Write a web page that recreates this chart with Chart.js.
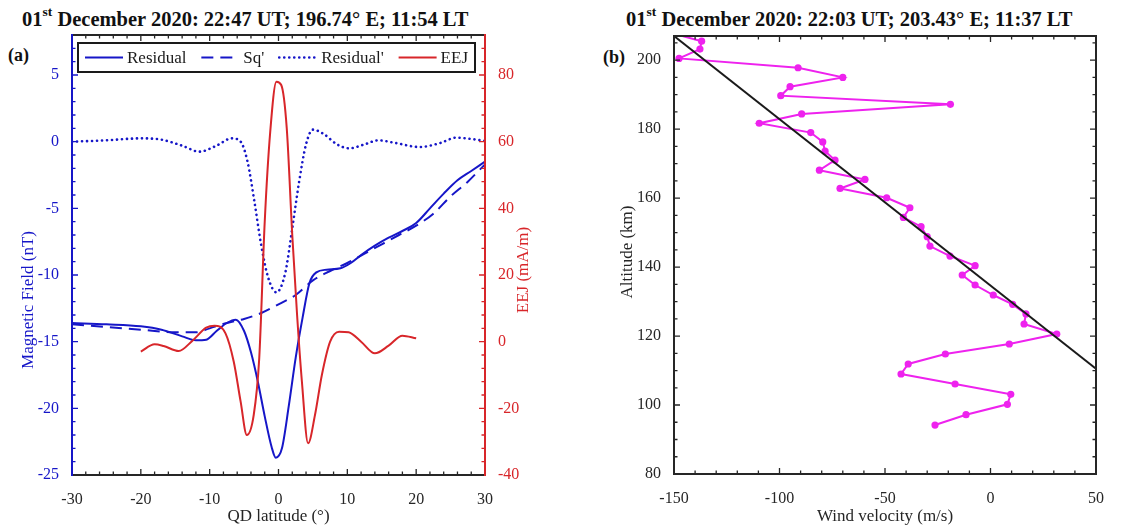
<!DOCTYPE html>
<html><head><meta charset="utf-8">
<script src="https://cdn.jsdelivr.net/npm/chart.js@4/dist/chart.umd.min.js"></script>
<style>
body{margin:0;background:#fff;width:1142px;height:530px;position:relative;overflow:hidden;font-family:'Liberation Serif','Times New Roman',serif;color:#111}
.ttl{position:absolute;font-weight:bold;font-size:20.5px;white-space:nowrap;line-height:1}
.ttl sup{font-size:13.5px;position:relative;top:-2px}
.lab{position:absolute;font-weight:bold;font-size:18px;line-height:1}
canvas{position:absolute;top:0}
</style></head>
<body>
<div class="ttl" style="left:22px;top:7px">01<sup>st</sup> December 2020: 22:47 UT; 196.74° E; 11:54 LT</div>
<div class="ttl" style="left:626px;top:7px">01<sup>st</sup> December 2020: 22:03 UT; 203.43° E; 11:37 LT</div>
<div class="lab" style="left:8px;top:46px">(a)</div>
<div class="lab" style="left:603px;top:48px">(b)</div>
<canvas id="ca" width="560" height="530" style="left:0"></canvas>
<canvas id="cb" width="582" height="530" style="left:560px"></canvas>
<script>
// ===== Panel (a) data: QD latitude (deg) vs values =====
const resLat = [-30,-25,-20,-17,-14,-12,-10.5,-9,-7.5,-6.2,-5,-4,-3,-2,-1,-0.4,0.5,1.5,2.5,3.5,4.5,5.5,7,9,10.5,12,14,16,18,20,22,24,26,28,30];
const resVal = [-13.6,-13.7,-13.85,-14.1,-14.6,-14.9,-14.85,-14.2,-13.6,-13.35,-14.2,-15.8,-18.0,-20.6,-22.9,-23.7,-23.0,-19.8,-16.2,-13.2,-10.6,-9.8,-9.6,-9.5,-9.1,-8.5,-7.8,-7.2,-6.7,-6.1,-5.0,-3.9,-2.9,-2.2,-1.5];
const sqLat = [-30,-25,-20,-15,-12,-10,-7.5,-5,-2.5,0,2.5,5,7.5,10,12.5,15,17.5,20,22.5,25,27.5,30];
const sqVal = [-13.7,-13.9,-14.1,-14.3,-14.3,-14.0,-13.6,-13.3,-12.85,-12.2,-11.5,-10.4,-9.7,-9.1,-8.4,-7.7,-7.0,-6.3,-5.4,-4.1,-3.0,-1.7];
const resPLat = [-30,-25,-20,-17,-14,-11.5,-9,-6.8,-5.5,-4.5,-3.5,-2.5,-1.5,-0.3,1,2,3,4,5,6.5,8.5,10.3,12.5,14.5,17,20.5,23.5,25.8,28,30];
const resPVal = [0,0.1,0.25,0.15,-0.3,-0.75,-0.3,0.25,0,-1.5,-4.5,-7.8,-10.2,-11.3,-9.8,-6.5,-3.0,-0.2,0.9,0.6,-0.2,-0.5,-0.2,0.1,-0.1,-0.4,-0.1,0.3,0.2,0.05];
const eejLat = [-20,-18,-16.7,-14.5,-12.5,-10.5,-9.3,-7.7,-6.5,-5.5,-4.6,-3.6,-2.8,-2,-1.2,-0.3,0.4,1.2,2,2.7,3.4,4.3,5.3,6.3,7.5,8.8,10.2,12,14,16,18,20];
const eejVal = [-3,-0.8,-1.3,-2.8,0.3,4.2,4.8,2.5,-6,-18,-28,-22,-5,36,63,78,77,64,32,8,-12,-30.5,-22,-10,0,3,2.8,0,-3.5,-1.2,1.8,1];
const latTicks = [-30,-20,-10,0,10,20,30];
const bTicks = [-25,-20,-15,-10,-5,0,5];
const eejTicks = [-40,-20,0,20,40,60,80];

// ===== Panel (b) data: altitude (km) vs wind velocity (m/s) =====
const windAlt = [94.2,97.2,100.2,103.1,106.1,109.0,111.9,114.8,117.7,120.6,123.5,126.4,129.2,131.9,134.8,137.7,140.4,143.2,146.1,148.8,151.7,154.4,157.2,160.1,162.8,165.4,168.1,171.0,173.6,176.3,179.0,181.7,184.4,187.2,189.7,192.3,195.0,197.8,200.5,203.2,205.5,208.3];
const windVel = [-26.3,-11.6,8.0,9.6,-16.8,-42.4,-39.0,-21.4,8.9,31.4,15.9,16.8,10.5,1.3,-7.3,-13.4,-7.3,-19.2,-28.7,-30.0,-32.9,-41.3,-38.2,-49.2,-71.3,-59.5,-81.1,-73.7,-78.4,-79.5,-85.2,-109.6,-89.5,-19,-99.4,-95,-70,-91.2,-147.6,-137.7,-136.9,-154];
const fitVel = [-150, 50];
const fitAlt = [207, 110.5];
const windTicks = [-150,-100,-50,0,50];
const altTicks = [80,100,120,140,160,180,200];

const BLUE = '#1616c8', RED = '#d8262a', MAG = '#ee22ee', INK = '#262626';
const SERIF = "'Liberation Serif','Times New Roman',serif";
const pts = (xs, ys) => xs.map((x, i) => ({x, y: ys[i]}));
const fixTicks = arr => s => { s.ticks = arr.map(v => ({value: v})); };

// inward major/minor tick marks + axis box
const tickMarks = {
  id: 'tickMarks',
  afterDatasetsDraw(chart, args, o) {
    const ctx = chart.ctx, a = chart.chartArea;
    ctx.save();
    for (const sp of o.specs) {
      const s = chart.scales[sp.id];
      ctx.strokeStyle = sp.color; ctx.lineWidth = 1.3;
      ctx.beginPath();
      const n0 = Math.ceil(s.min / sp.minor - 1e-9), n1 = Math.floor(s.max / sp.minor + 1e-9);
      for (let n = n0; n <= n1; n++) {
        const v = n * sp.minor;
        const major = Math.abs(v / sp.major - Math.round(v / sp.major)) < 1e-6;
        const len = major ? 6 : 3.5;
        const p = s.getPixelForValue(v);
        for (const side of sp.sides) {
          if (side === 'bottom') { ctx.moveTo(p, a.bottom); ctx.lineTo(p, a.bottom - len); }
          if (side === 'top') { ctx.moveTo(p, a.top); ctx.lineTo(p, a.top + len); }
          if (side === 'left') { ctx.moveTo(a.left, p); ctx.lineTo(a.left + len, p); }
          if (side === 'right') { ctx.moveTo(a.right, p); ctx.lineTo(a.right - len, p); }
        }
      }
      ctx.stroke();
    }
    ctx.lineWidth = 2; ctx.lineCap = 'square';
    const b = o.border;
    const seg = (c, x0, y0, x1, y1) => { ctx.strokeStyle = c; ctx.beginPath(); ctx.moveTo(x0, y0); ctx.lineTo(x1, y1); ctx.stroke(); };
    seg(b.top, a.left, a.top, a.right, a.top);
    seg(b.bottom, a.left, a.bottom, a.right, a.bottom);
    seg(b.left, a.left, a.top, a.left, a.bottom);
    seg(b.right, a.right, a.top, a.right, a.bottom);
    ctx.restore();
  }
};

// rotated y-axis titles (reading bottom-to-top on both sides)
const yTitles = {
  id: 'yTitles',
  afterDraw(chart, args, o) {
    const ctx = chart.ctx;
    for (const t of o.items) {
      ctx.save();
      ctx.translate(t.x, t.y); ctx.rotate(-Math.PI / 2);
      ctx.font = '17px ' + SERIF; ctx.fillStyle = t.color;
      ctx.textAlign = 'center'; ctx.textBaseline = 'middle';
      ctx.fillText(t.text, 0, 0);
      ctx.restore();
    }
  }
};

// boxed legend inside the plot (panel a)
const boxLegend = {
  id: 'boxLegend',
  afterDatasetsDraw(chart, args, o) {
    if (!o.show) return;
    const ctx = chart.ctx;
    ctx.save();
    ctx.font = o.font;
    const items = chart.data.datasets;
    const widths = items.map(d => o.sampleW + o.textGap + ctx.measureText(d.label).width);
    const inner = o.x1 - o.x0 - 2 * o.pad;
    const gap = (inner - widths.reduce((p, q) => p + q, 0)) / (items.length - 1);
    ctx.fillStyle = '#fff'; ctx.fillRect(o.x0, o.y0, o.x1 - o.x0, o.y1 - o.y0);
    ctx.strokeStyle = '#1a1a1a'; ctx.lineWidth = 2; ctx.strokeRect(o.x0, o.y0, o.x1 - o.x0, o.y1 - o.y0);
    let x = o.x0 + o.pad; const yc = (o.y0 + o.y1) / 2;
    items.forEach((d, k) => {
      ctx.save();
      ctx.strokeStyle = d.borderColor; ctx.lineWidth = d.borderWidth;
      ctx.setLineDash(d.borderDash || []); ctx.lineCap = d.borderCapStyle || 'butt';
      ctx.beginPath(); ctx.moveTo(x, yc); ctx.lineTo(x + o.sampleW, yc); ctx.stroke();
      ctx.restore();
      ctx.fillStyle = o.color; ctx.textBaseline = 'middle'; ctx.textAlign = 'left';
      ctx.fillText(d.label, x + o.sampleW + o.textGap, yc + 1);
      x += widths[k] + gap;
    });
    ctx.restore();
  }
};

Chart.register(tickMarks, yTitles, boxLegend);

const tickFont = {family: SERIF, size: 16};
const lineBase = {pointRadius: 0, fill: false, cubicInterpolationMode: 'monotone', borderWidth: 2};

new Chart(document.getElementById('ca'), {
  type: 'line',
  data: {
    datasets: [
      {...lineBase, label: 'Residual', data: pts(resLat, resVal), borderColor: BLUE, yAxisID: 'y', order: 1},
      {...lineBase, label: "Sq'", data: pts(sqLat, sqVal), borderColor: BLUE, borderDash: [12, 7], yAxisID: 'y', order: 2},
      {...lineBase, label: "Residual'", data: pts(resPLat, resPVal), borderColor: BLUE, borderDash: [0.1, 4.9], borderCapStyle: 'round', borderWidth: 2.6, yAxisID: 'y', order: 3},
      {...lineBase, label: 'EEJ', data: pts(eejLat, eejVal), borderColor: RED, yAxisID: 'y1', order: 0}
    ]
  },
  options: {
    responsive: false, animation: false, events: [],
    layout: {padding: {top: 35, left: 0, right: 0, bottom: 0}},
    plugins: {
      legend: {display: false}, tooltip: {enabled: false},
      tickMarks: {
        specs: [
          {id: 'x', minor: 2, major: 10, sides: ['bottom', 'top'], color: INK},
          {id: 'y', minor: 1, major: 5, sides: ['left'], color: BLUE},
          {id: 'y1', minor: 4, major: 20, sides: ['right'], color: RED}
        ],
        border: {top: INK, bottom: INK, left: BLUE, right: RED}
      },
      yTitles: {items: [
        {text: 'Magnetic Field (nT)', x: 29, y: 300, color: BLUE},
        {text: 'EEJ (mA/m)', x: 524, y: 270, color: RED}
      ]},
      boxLegend: {show: true, x0: 78, x1: 475, y0: 43, y1: 72, pad: 7, sampleW: 38, textGap: 4,
        font: '17px ' + SERIF, color: '#1a1a1a'}
    },
    scales: {
      x: {type: 'linear', position: 'bottom', min: -30, max: 30,
        afterBuildTicks: fixTicks(latTicks), afterFit: s => { s.height = 55; },
        grid: {display: false}, border: {display: false},
        ticks: {font: tickFont, color: INK, padding: 7, maxRotation: 0},
        title: {display: true, text: 'QD latitude (°)', font: {family: SERIF, size: 17}, color: INK, padding: {top: 0, bottom: 3}}},
      y: {type: 'linear', position: 'left', min: -25, max: 8,
        afterBuildTicks: fixTicks(bTicks), afterFit: s => { s.width = 72; },
        grid: {display: false}, border: {display: false},
        ticks: {font: tickFont, color: BLUE, padding: 5}},
      y1: {type: 'linear', position: 'right', min: -40, max: 92,
        afterBuildTicks: fixTicks(eejTicks), afterFit: s => { s.width = 75; },
        grid: {display: false}, border: {display: false},
        ticks: {font: tickFont, color: RED, padding: 5}}
    }
  }
});

new Chart(document.getElementById('cb'), {
  type: 'scatter',
  data: {
    datasets: [
      {label: 'Wind', data: pts(windVel, windAlt), showLine: true, borderColor: MAG, backgroundColor: MAG,
        pointRadius: 3.6, pointBorderWidth: 0, borderWidth: 2, order: 1},
      {label: 'Fit', data: pts(fitVel, fitAlt), showLine: true, borderColor: '#1a1a1a', pointRadius: 0, borderWidth: 2, order: 0}
    ]
  },
  options: {
    responsive: false, animation: false, events: [],
    layout: {padding: {top: 36, left: 0, right: 46, bottom: 0}},
    plugins: {
      legend: {display: false}, tooltip: {enabled: false},
      tickMarks: {
        specs: [
          {id: 'x', minor: 10, major: 50, sides: ['bottom', 'top'], color: INK},
          {id: 'y', minor: 5, major: 20, sides: ['left', 'right'], color: INK}
        ],
        border: {top: INK, bottom: INK, left: INK, right: INK}
      },
      yTitles: {items: [{text: 'Altitude (km)', x: 68, y: 252, color: INK}]},
      boxLegend: {show: false}
    },
    scales: {
      x: {type: 'linear', position: 'bottom', min: -150, max: 50,
        afterBuildTicks: fixTicks(windTicks), afterFit: s => { s.height = 56; },
        grid: {display: false}, border: {display: false},
        ticks: {font: tickFont, color: INK, padding: 7, maxRotation: 0},
        title: {display: true, text: 'Wind velocity (m/s)', font: {family: SERIF, size: 17}, color: INK, padding: {top: 0, bottom: 3}}},
      y: {type: 'linear', position: 'left', min: 80, max: 207,
        afterBuildTicks: fixTicks(altTicks), afterFit: s => { s.width = 114; },
        grid: {display: false}, border: {display: false},
        ticks: {font: tickFont, color: INK, padding: 5}}
    }
  }
});
</script>
</body></html>
